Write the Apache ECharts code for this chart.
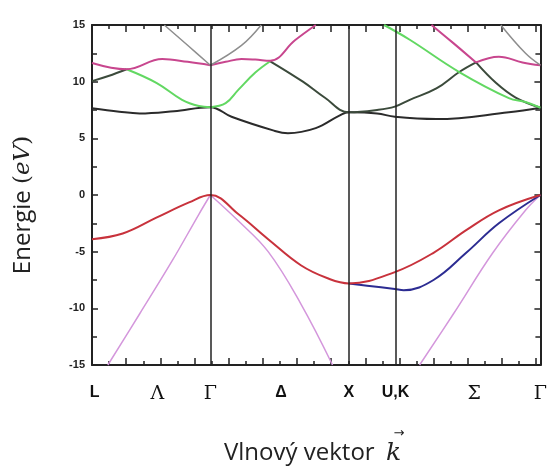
<!DOCTYPE html>
<html>
<head>
<meta charset="utf-8">
<script src="https://cdn.jsdelivr.net/npm/echarts@6/dist/echarts.min.js"></script>
<style>
  html, body { margin: 0; padding: 0; background: #fff; }
  #chart { width: 550px; height: 469px; }
</style>
</head>
<body>
<div id="chart"></div>
<script>
// k path: L=0, Gamma=0.866, X=1.88, U,K=2.216, Gamma=3.281
var symPoints = [0.866, 1.88, 2.216];
var kLabels = ['L', 'Λ', 'Γ', 'Δ', 'X', 'U,K', 'Σ', 'Γ'];
var kLabelPos = [0.02, 0.478, 0.866, 1.383, 1.88, 2.22, 2.796, 3.281];
var yTicks = [-15, -10, -5, 0, 5, 10, 15];

// valence bands
var redBand = [[0,-3.9],[0.225,-3.4],[0.471,-2.0],[0.710,-0.65],[0.866,0],[1.072,-1.7],[1.289,-3.9],
  [1.528,-6.2],[1.724,-7.35],[1.88,-7.8],[2.216,-6.8],[2.499,-5.1],[2.738,-3.1],[2.977,-1.35],[3.281,0]];
var blueBand = [[1.88,-7.8],[2.013,-8.0],[2.216,-8.3],[2.281,-8.4],[2.499,-7.5],[2.738,-5.1],[2.977,-2.5],[3.281,0]];
var violetLG = [[0.116,-15],[0.348,-10.5],[0.587,-5.8],[0.782,-1.7],[0.866,0]];
var violetGX = [[0.866,0],[1.072,-2.3],[1.289,-5.0],[1.528,-9.6],[1.760,-15]];
var violetKG = [[2.397,-15],[2.644,-10.5],[2.933,-5.1],[3.172,-1.35],[3.281,0]];

// conduction bands
var blackBand = [[0,7.65],[0.2,7.35],[0.348,7.2],[0.6,7.4],[0.866,7.75],[1.021,6.9],[1.325,5.7],[1.434,5.45],
  [1.637,5.9],[1.81,7.0],[1.88,7.3],[2.086,7.2],[2.216,6.9],[2.520,6.7],[3.05,7.3],[3.281,7.7]];
var darkL = [[0,10.05],[0.12,10.5],[0.253,11.1]];
var darkGX = [[1.304,11.8],[1.543,10.0],[1.702,8.6],[1.88,7.3],[2.086,7.5],[2.216,7.8],[2.325,8.4],[2.520,9.4],[2.687,10.85],[2.810,11.7]];
var darkKG = [[2.810,11.7],[2.955,9.9],[3.100,8.6],[3.281,7.7]];
var greenLG = [[0.253,11.1],[0.471,9.9],[0.659,8.4],[0.782,7.85],[0.866,7.75]];
var greenGX = [[0.866,7.75],[0.978,8.1],[1.072,9.3],[1.195,10.8],[1.304,11.8]];
var greenKG = [[2.137,15],[2.325,13.7],[2.687,10.85],[3.05,8.55],[3.172,8.2],[3.281,7.7]];
var pinkLG = [[0,11.65],[0.253,11.1],[0.514,12.0],[0.7,11.75],[0.866,11.45]];
var pinkGX = [[0.866,11.45],[0.978,11.75],[1.094,12.0],[1.195,11.95],[1.304,11.85],[1.485,13.65],[1.637,15]];
var pinkKtop = [[2.484,15],[2.644,13.4],[2.810,11.7]];
var pinkKG = [[2.810,11.7],[2.977,12.2],[3.15,11.7],[3.281,11.45]];
var grayLG = [[0.529,15],[0.710,13.1],[0.866,11.45]];
var grayGX = [[0.866,11.45],[1.094,13.2],[1.238,15]];
var grayKG = [[2.991,15],[3.172,12.5],[3.281,11.45]];

var chart = echarts.init(document.getElementById('chart'));

function band(data, color, width) {
  return {
    type: 'line', data: data, smooth: 0.4, symbol: 'none', silent: true,
    lineStyle: { color: color, width: width || 2 }, z: 3
  };
}

var greek = { 'Λ': 1, 'Γ': 1, 'Σ': 1 };

var frameTick = { show: true, inside: true, length: 7, lineStyle: { color: '#222', width: 1.5 } };
var frameMinor = { show: true, splitNumber: 2, length: 4, lineStyle: { color: '#222', width: 1.5 } };
var frameLine = { show: true, onZero: false, lineStyle: { color: '#222', width: 2 } };

var series = [
  band(violetLG, '#d497dc', 1.5),
  band(violetGX, '#d497dc', 1.5),
  band(violetKG, '#d497dc', 1.5),
  band(blueBand, '#2c2c92'),
  band(redBand, '#c8323c'),
  band(blackBand, '#2b2b2b'),
  band(darkL, '#3b4a3b'),
  band(darkGX, '#3b4a3b'),
  band(darkKG, '#3b4a3b'),
  band(greenLG, '#62d862'),
  band(greenGX, '#62d862'),
  band(greenKG, '#62d862'),
  band(pinkLG, '#c8468e'),
  band(pinkGX, '#c8468e'),
  band(pinkKtop, '#c8468e'),
  band(pinkKG, '#c8468e'),
  band(grayLG, '#8e8e8e', 1.5),
  band(grayGX, '#8e8e8e', 1.5),
  band(grayKG, '#8e8e8e', 1.5)
];
series.push({
  type: 'line', data: [], silent: true,
  markLine: {
    symbol: 'none', silent: true, animation: false,
    label: { show: false },
    lineStyle: { color: '#222', width: 1.5, type: 'solid' },
    data: symPoints.map(function (k) { return { xAxis: k }; })
  }
});

chart.setOption({
  animation: false,
  backgroundColor: '#fff',
  grid: { left: 92, right: 5, top: 25, bottom: 104 },
  xAxis: [{
    type: 'value', min: 0, max: 3.281, interval: 0.25, position: 'bottom',
    axisLine: frameLine, axisTick: frameTick, minorTick: frameMinor, splitLine: { show: false },
    axisLabel: {
      customValues: kLabelPos, margin: 20,
      formatter: function (v) {
        var best = 0;
        for (var i = 0; i < kLabelPos.length; i++) {
          if (Math.abs(kLabelPos[i] - v) < Math.abs(kLabelPos[best] - v)) best = i;
        }
        var t = kLabels[best];
        return greek[t] ? '{g|' + t + '}' : '{b|' + t + '}';
      },
      rich: {
        b: { fontFamily: 'Liberation Sans', fontWeight: 'bold', fontSize: 16, color: '#111' },
        g: { fontFamily: 'DejaVu Serif', fontSize: 19, color: '#111' }
      }
    }
  }, {
    type: 'value', min: 0, max: 3.281, interval: 0.25, position: 'top',
    axisLine: frameLine, axisTick: frameTick, minorTick: frameMinor,
    splitLine: { show: false }, axisLabel: { show: false }
  }],
  yAxis: [{
    type: 'value', min: -15, max: 15, interval: 5, position: 'left',
    axisLine: frameLine, axisTick: { show: true, inside: true, length: 6, lineStyle: { color: '#222', width: 1.5 } },
    minorTick: { show: true, splitNumber: 2, length: 5, lineStyle: { color: '#222', width: 1.5 } },
    splitLine: { show: false },
    axisLabel: {
      margin: 7, color: '#222', fontFamily: 'Liberation Sans', fontWeight: 'bold', fontSize: 11,
      customValues: yTicks
    }
  }, {
    type: 'value', min: -15, max: 15, interval: 5, position: 'right',
    axisLine: frameLine, axisTick: { show: true, inside: true, length: 6, lineStyle: { color: '#222', width: 1.5 } },
    minorTick: { show: true, splitNumber: 2, length: 5, lineStyle: { color: '#222', width: 1.5 } },
    splitLine: { show: false }, axisLabel: { show: false }
  }],
  series: series,
  graphic: [{
    type: 'text', x: 23, y: 205, rotation: Math.PI / 2,
    style: {
      text: '{a|Energie }{p|(}{i|eV}{p|)}',
      align: 'center', verticalAlign: 'middle',
      rich: {
        a: { fontFamily: 'Open Sans', fontSize: 24, fill: '#222' },
        p: { fontFamily: 'DejaVu Serif', fontSize: 23, fill: '#222' },
        i: { fontFamily: 'DejaVu Serif', fontStyle: 'italic', fontSize: 23, fill: '#222' }
      }
    }
  }, {
    type: 'text', x: 224, y: 453,
    style: {
      text: 'Vlnový vektor ', align: 'left', verticalAlign: 'middle',
      fontFamily: 'Open Sans', fontSize: 24, fill: '#222'
    }
  }, {
    type: 'text', x: 386, y: 453,
    style: {
      text: 'k', align: 'left', verticalAlign: 'middle',
      fontFamily: 'DejaVu Serif', fontStyle: 'italic', fontSize: 25, fill: '#222'
    }
  }, {
    type: 'text', x: 399, y: 434,
    style: {
      text: '→', align: 'center', verticalAlign: 'middle',
      fontFamily: 'DejaVu Sans', fontSize: 13, fill: '#222'
    }
  }]
});
</script>
</body>
</html>
